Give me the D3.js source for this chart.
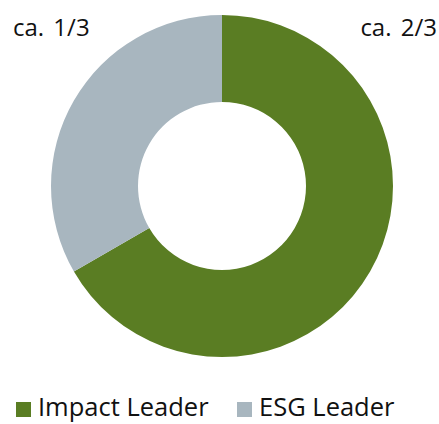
<!DOCTYPE html>
<html>
<head>
<meta charset="utf-8">
<script src="https://cdn.jsdelivr.net/npm/d3@7"></script>
<style>
  body { margin: 0; background: #fff; }
  text { font-family: "Open Sans", "Noto Sans", sans-serif; fill: #111; }
</style>
</head>
<body>
<div id="chart"></div>
<script>
var width = 439;
var height = 424;

// data
var categories = ["Impact Leader", "ESG Leader"];
var values = [2 / 3, 1 / 3];
var sliceLabels = ["ca. 2/3", "ca. 1/3"];
var colors = ["#5a7d23", "#a8b6bf"];

var cx = 222, cy = 186;
var outerR = 171, innerR = 84;

var svg = d3.select("#chart")
            .append("svg")
            .attr("width", width)
            .attr("height", height);

var pie = d3.pie().sort(null).value(function(d){ return d; });
var arc = d3.arc().innerRadius(innerR).outerRadius(outerR);

var color = d3.scaleOrdinal().domain(categories).range(colors);

var slices = pie(values);

svg.append("g")
   .attr("transform", "translate(" + cx + "," + cy + ")")
   .selectAll("path")
   .data(slices)
   .enter()
   .append("path")
   .attr("d", arc)
   .attr("fill", function(d, i){ return color(categories[i]); });

// labels in the top corners
svg.append("text")
   .attr("x", 437)
   .attr("y", 36)
   .attr("text-anchor", "end")
   .attr("font-size", 24)
   .attr("word-spacing", 3)
   .text(sliceLabels[0]);

svg.append("text")
   .attr("x", 13)
   .attr("y", 36)
   .attr("font-size", 24)
   .attr("word-spacing", 3)
   .text(sliceLabels[1]);

// legend
var legendX = [16, 237];
var legend = svg.append("g")
                .selectAll("g")
                .data(categories)
                .enter()
                .append("g")
                .attr("transform", function(d, i){ return "translate(" + legendX[i] + ",402)"; });

legend.append("rect")
      .attr("width", 15)
      .attr("height", 15)
      .attr("fill", function(d){ return color(d); });

legend.append("text")
      .attr("x", 22)
      .attr("y", 14)
      .attr("font-size", 25.5)
      .text(function(d){ return d; });
</script>
</body>
</html>
